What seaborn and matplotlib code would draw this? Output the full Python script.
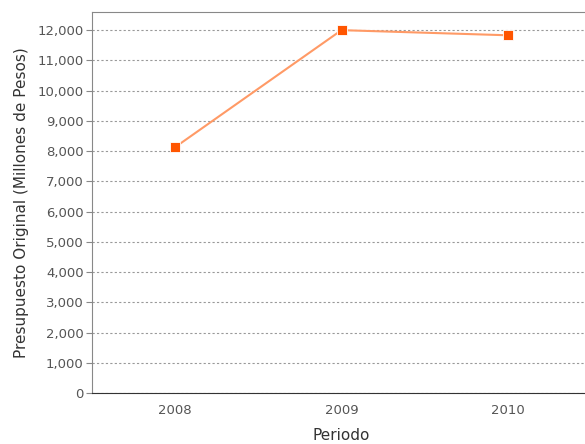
import matplotlib
matplotlib.use('Agg')
import matplotlib.pyplot as plt
import seaborn as sns
import pandas as pd

# Data
periodos = ['2008', '2009', '2010']
presupuesto = [8130, 12000, 11830]

df = pd.DataFrame({'Periodo': periodos, 'Presupuesto': presupuesto})

sns.set_style('white')
plt.rcParams['font.family'] = ['DejaVu Sans']

fig = plt.figure(figsize=(5.85, 4.44), dpi=100)
ax = fig.add_axes([92 / 585, 1 - 393 / 444, (591 - 92) / 585, (393 - 12) / 444])

# Line first, then markers on top
sns.lineplot(data=df, x='Periodo', y='Presupuesto', ax=ax, color='#ff9a66',
             linewidth=1.5, sort=False)
sns.scatterplot(data=df, x='Periodo', y='Presupuesto', ax=ax, color='#ff5500',
                marker='s', s=55, edgecolor='white', linewidth=0.6, zorder=5)

ax.set_xlim(-0.5, 2.5)
ax.set_ylim(0, 12600)
ax.set_yticks(range(0, 12001, 1000))
ax.set_yticklabels([f'{v:,}' for v in range(0, 12001, 1000)])

ax.yaxis.grid(True, linestyle=(0, (2, 2)), color='#999999', linewidth=0.8)
ax.xaxis.grid(False)

for side in ['left', 'bottom', 'top']:
    ax.spines[side].set_color('#888888')
ax.spines['bottom'].set_color('#333333')
ax.spines['right'].set_visible(False)

ax.tick_params(axis='y', length=4, color='#888888', labelcolor='#555555',
               labelsize=9.5, left=True, pad=2)
ax.tick_params(axis='x', length=0, labelcolor='#555555', labelsize=9.5, pad=8)

ax.set_xlabel('Periodo', fontsize=11, color='#333333', labelpad=8)
ax.set_ylabel('Presupuesto Original (Millones de Pesos)', fontsize=11,
              color='#333333', labelpad=6)

plt.savefig('out.png', dpi=100)
